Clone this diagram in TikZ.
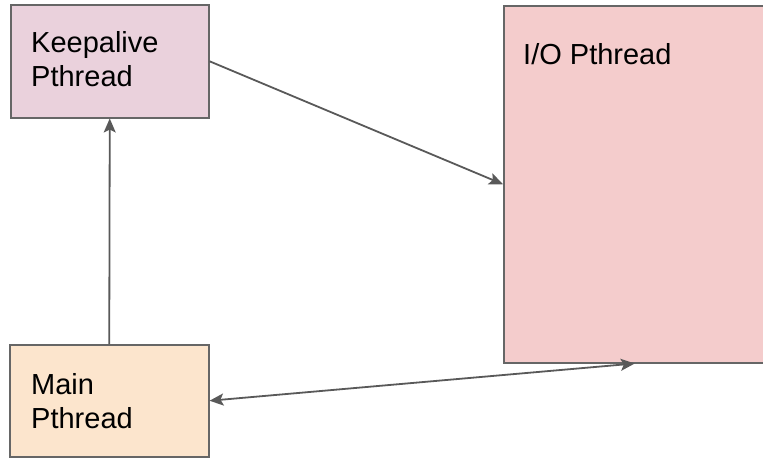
\documentclass[tikz,border=0pt]{standalone}
\usepackage{fontspec}
\setmainfont{Liberation Sans}
\usetikzlibrary{arrows.meta}
\definecolor{edgegray}{HTML}{666666}
\definecolor{linkgray}{HTML}{595959}
\definecolor{keepfill}{HTML}{EAD1DC}
\definecolor{iofill}{HTML}{F4CCCC}
\definecolor{mainfill}{HTML}{FCE5CD}
\begin{document}
\begin{tikzpicture}[x=1pt,y=1pt,
  threadbox/.style={draw=edgegray,line width=1.5pt,rectangle,inner sep=0pt,anchor=north west},
  boxtext/.style={anchor=north west,inner sep=0pt,align=left,text=black,
    font=\fontsize{29}{34}\selectfont},
  link/.style={draw=linkgray,line width=1.8pt,-{Stealth[length=14pt,width=12pt,inset=3pt]}},
  duallink/.style={draw=linkgray,line width=1.8pt,
    {Stealth[length=14pt,width=12pt,inset=3pt]}-{Stealth[length=14pt,width=12pt,inset=3pt]}}]
\useasboundingbox (0,0) rectangle (763,-458);
% thread boxes
\node[threadbox,fill=keepfill,minimum width=198pt,minimum height=113pt] (keep) at (10,-4) {};
\node[threadbox,fill=iofill,minimum width=262pt,minimum height=357pt] (io) at (503,-5) {};
\node[threadbox,fill=mainfill,minimum width=199pt,minimum height=112pt] (main) at (9,-344) {};
% box captions
\node[boxtext] (keeptxt) at (31,-31.5) {Keepalive\\Pthread};
\node[boxtext] (iotxt) at (523,-43) {I/O Pthread};
\node[boxtext] (maintxt) at (31,-373) {Main\\Pthread};
% connectors
\draw[link] (main.north) -- (keep.south);
\draw[link] (keep.east) -- (io.west);
\draw[duallink] (main.east) -- (io.south);
\end{tikzpicture}
\end{document}
